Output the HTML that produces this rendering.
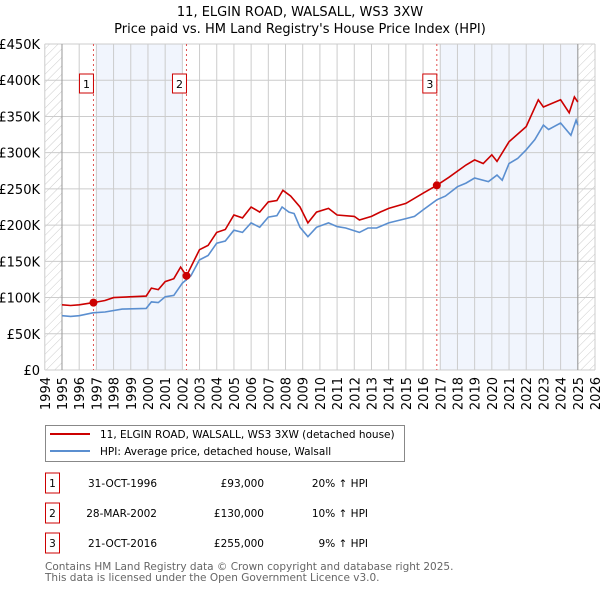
<!DOCTYPE html>
<html><head><meta charset="utf-8"><style>
body{margin:0;background:#fff;font-family:"DejaVu Sans","Liberation Sans",sans-serif;}
svg text{font-family:"DejaVu Sans","Liberation Sans",sans-serif;}
</style></head><body>
<svg id="chart" width="600" height="590" xmlns="http://www.w3.org/2000/svg">
<defs><pattern id="hatch" width="6" height="6" patternUnits="userSpaceOnUse" patternTransform="rotate(45)"><line x1="0" y1="0" x2="0" y2="6" stroke="#ccc" stroke-width="1"/></pattern></defs>
<text x="300" y="16" text-anchor="middle" font-size="13" fill="#000">11, ELGIN ROAD, WALSALL, WS3 3XW</text>
<text x="300" y="33" text-anchor="middle" font-size="13" fill="#000">Price paid vs. HM Land Registry's House Price Index (HPI)</text>
<g id="plot"></g>
<g>
<rect x="45.5" y="425.5" width="359" height="36" fill="#fff" stroke="#888"/>
<line x1="50" y1="434" x2="90" y2="434" stroke="#cc0000" stroke-width="2"/>
<text x="100" y="438" font-size="10.5">11, ELGIN ROAD, WALSALL, WS3 3XW (detached house)</text>
<line x1="50" y1="451" x2="90" y2="451" stroke="#5b8fd0" stroke-width="2"/>
<text x="100" y="455" font-size="10.5">HPI: Average price, detached house, Walsall</text>
</g>
<g id="table" font-size="10.5"></g>
<text x="45" y="570" font-size="10.5" fill="#666">Contains HM Land Registry data © Crown copyright and database right 2025.</text>
<text x="45" y="581" font-size="10.5" fill="#666">This data is licensed under the Open Government Licence v3.0.</text>
</svg>
<script>
const hpiYears=[1995,1995.5,1996,1996.8,1997.5,1998.5,1999.9,2000.2,2000.6,2001,2001.5,2002,2002.5,2003,2003.5,2004,2004.5,2005,2005.5,2006,2006.5,2007,2007.5,2007.8,2008.2,2008.5,2008.84,2009.3,2009.8,2010.5,2011,2011.5,2012.3,2012.8,2013.3,2014,2015,2015.5,2016,2016.8,2017.3,2018,2018.5,2019,2019.8,2020.3,2020.6,2021,2021.5,2022,2022.5,2023,2023.3,2024,2024.6,2024.9,2025];
const hpiValues=[75,74,75,79,80,84,85,94,93,101,103,120,130,152,158,175,178,193,190,203,197,211,213,225,218,216,197,184,197,203,198,196,190,196,196,203,209,212,221,235,240,253,258,265,260,269,262,285,292,304,318,338,332,341,324,345,338];
const ppYears=[1995,1995.5,1996,1996.83,1997.5,1998,1999.9,2000.2,2000.6,2001,2001.5,2001.9,2002.24,2003,2003.5,2004,2004.5,2005,2005.5,2006,2006.5,2007,2007.5,2007.85,2008.3,2008.84,2009.3,2009.8,2010.5,2011,2012,2012.3,2013,2013.5,2014,2015,2016,2016.8,2017.5,2018.5,2019,2019.5,2020,2020.3,2021,2022,2022.7,2023,2024,2024.5,2024.8,2025];
const ppValues=[90,89,90,93,96,100,102,113,111,122,126,142,130,166,172,190,194,214,210,225,218,232,234,248,240,225,203,218,223,214,212,207,212,218,223,230,244,255,266,283,290,285,297,288,315,336,373,363,373,355,377,370];
const yTicks=[0,50,100,150,200,250,300,350,400,450];
const yTickLabels=["£0","£50K","£100K","£150K","£200K","£250K","£300K","£350K","£400K","£450K"];
const xTicks=[1994,1995,1996,1997,1998,1999,2000,2001,2002,2003,2004,2005,2006,2007,2008,2009,2010,2011,2012,2013,2014,2015,2016,2017,2018,2019,2020,2021,2022,2023,2024,2025,2026];
const saleLabels=["1","2","3"];
const saleYears=[1996.83,2002.24,2016.8];
const saleValues=[93,130,255];
const saleDates=["31-OCT-1996","28-MAR-2002","21-OCT-2016"];
const salePrices=["£93,000","£130,000","£255,000"];
const saleHpi=["20% ↑ HPI","10% ↑ HPI","9% ↑ HPI"];

const NS="http://www.w3.org/2000/svg";
const L=44.8,R=595,T=44,B=370;
const X=y=>L+(y-1994)*(R-L)/32;
const Y=v=>B-v*(B-T)/450;
const plot=document.getElementById('plot');
function mk(tag,attrs,parent){const e=document.createElementNS(NS,tag);for(const k in attrs)e.setAttribute(k,attrs[k]);(parent||plot).appendChild(e);return e;}
let e;
e=mk('rect',{x:X(1997),y:T,width:X(2002)-X(1997),height:B-T,fill:'#eef3fc',opacity:0.8});


e=mk('rect',{x:X(2017),y:T,width:X(2025)-X(2017),height:B-T,fill:'#eef3fc',opacity:0.8});


e=mk('rect',{x:X(1994),y:T,width:X(1995)-X(1994),height:B-T,fill:'url(#hatch)'});


e=mk('rect',{x:X(2025),y:T,width:X(2026)-X(2025),height:B-T,fill:'url(#hatch)'});


yTicks.forEach((v,i)=>{
 e=mk('line',{x1:L,x2:R,y1:Y(v),y2:Y(v),stroke:'#ccc','stroke-width':1});
 
 
 e=mk('text',{x:40,y:Y(v)+5,'text-anchor':'end','font-size':13});
 e.textContent=yTickLabels[i];
 
 
});
xTicks.forEach(yr=>{
 e=mk('line',{x1:X(yr),x2:X(yr),y1:T,y2:B,stroke:'#ccc','stroke-width':1});
 
 
 e=mk('text',{x:0,y:0,'text-anchor':'end','font-size':13,transform:`translate(${X(yr)+5},${B+7}) rotate(-90)`});
 e.textContent=yr;
 
 
});
e=mk('line',{x1:X(1995),x2:X(1995),y1:T,y2:B,stroke:'#999','stroke-width':1});


e=mk('line',{x1:X(2025),x2:X(2025),y1:T,y2:B,stroke:'#999','stroke-width':1});


saleYears.forEach((yr,i)=>{
 e=mk('line',{x1:X(yr),x2:X(yr),y1:T,y2:B,stroke:'#e05050','stroke-width':1,'stroke-dasharray':'2,3'});
 
 
 e=mk('rect',{x:X(yr)-14,y:T+30,width:14,height:19,fill:'#fff',stroke:'#cc0000'});
 
 
 e=mk('text',{x:X(yr)-7,y:T+44,'text-anchor':'middle','font-size':11});
 e.textContent=saleLabels[i];
 
 
});
function path(xs,vs){return xs.map((x,i)=>(i?'L':'M')+X(x).toFixed(1)+','+Y(vs[i]).toFixed(1)).join(' ');}
e=mk('path',{d:path(hpiYears,hpiValues),fill:'none',stroke:'#5b8fd0','stroke-width':1.6});


e=mk('path',{d:path(ppYears,ppValues),fill:'none',stroke:'#cc0000','stroke-width':1.6});


saleYears.forEach((yr,i)=>{
 e=mk('circle',{cx:X(yr),cy:Y(saleValues[i]),r:4,fill:'#cc0000'});
 
 
});
const tbl=document.getElementById('table');
saleLabels.forEach((lab,i)=>{
 const cy=483+i*30;
 e=mk('rect',{x:45.5,y:cy-10,width:14,height:20,fill:'#fff',stroke:'#cc0000'},tbl);
 
 
 e=mk('text',{x:52.5,y:cy+4,'text-anchor':'middle'},tbl);
 e.textContent=lab;
 
 
 e=mk('text',{x:157,y:cy+4,'text-anchor':'end'},tbl);
 e.textContent=saleDates[i];
 
 
 e=mk('text',{x:264,y:cy+4,'text-anchor':'end'},tbl);
 e.textContent=salePrices[i];
 
 
 e=mk('text',{x:368,y:cy+4,'text-anchor':'end'},tbl);
 e.textContent=saleHpi[i];
 
 
});
</script>
</body></html>
